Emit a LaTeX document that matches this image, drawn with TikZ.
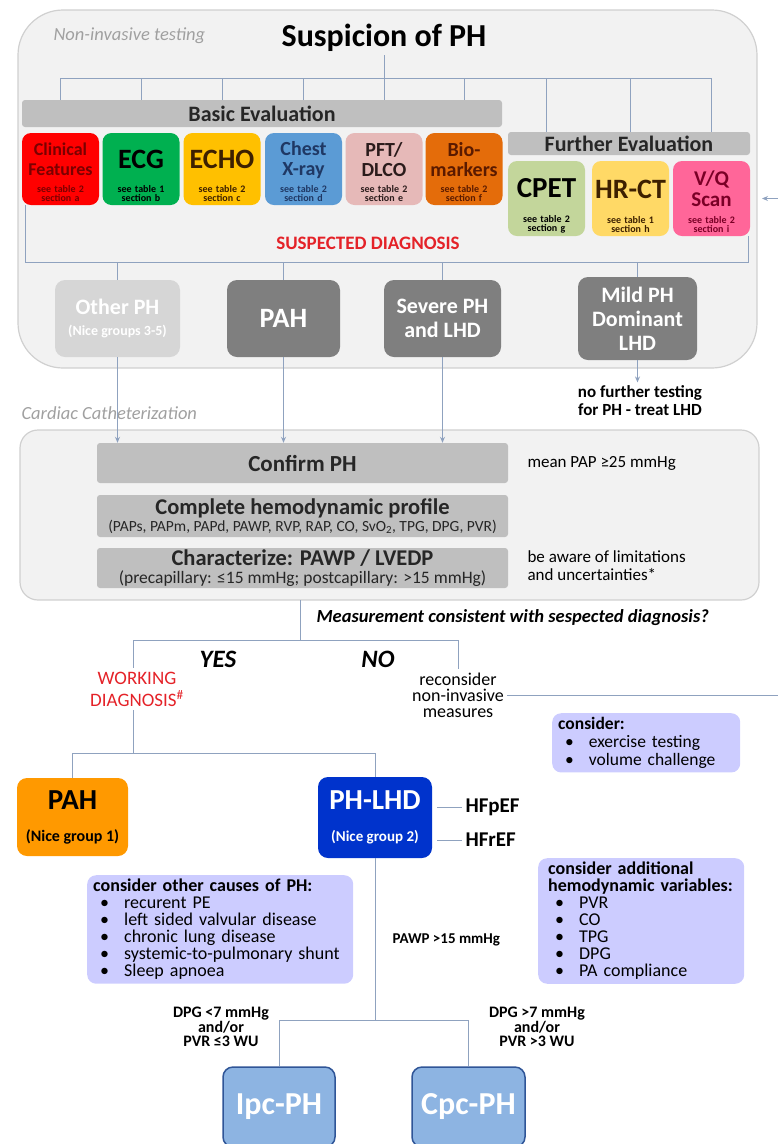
\documentclass[tikz,border=0pt]{standalone}
\usepackage{fontspec}
\setmainfont{Carlito}
\usetikzlibrary{arrows.meta,positioning,calc}

\newcommand{\fsz}[2]{\fontsize{#1}{#2}\selectfont}
% test box: main text centred above, table reference at the bottom
\newcommand{\testtext}[5]{\vbox to #5{\vfill{\fsz{#1}{#2}#3\par}\vfill{\fsz{10}{9}#4\par}\vspace{1pt}}}
\newcommand{\bul}{\hspace*{7pt}\textbullet\hspace{15pt}}

\definecolor{panelfill}{HTML}{F2F2F2}
\definecolor{panelline}{HTML}{D0D0D0}
\definecolor{bargray}{HTML}{BFBFBF}
\definecolor{wirecol}{HTML}{8FA2BF}
\definecolor{softgray}{HTML}{A0A0A0}
\definecolor{dxgray}{HTML}{7F7F7F}
\definecolor{dxlight}{HTML}{D6D6D6}
\definecolor{lilac}{HTML}{CCCCFF}
\definecolor{alert}{HTML}{E42228}
\definecolor{clinred}{HTML}{FF0000}
\definecolor{clintext}{HTML}{7A0000}
\definecolor{ecggreen}{HTML}{00B050}
\definecolor{echoyel}{HTML}{FFC000}
\definecolor{echotext}{HTML}{3D2000}
\definecolor{cxrblue}{HTML}{5B9BD5}
\definecolor{cxrtext}{HTML}{1F3864}
\definecolor{pftpink}{HTML}{E6B9B8}
\definecolor{pfttext}{HTML}{2B1B1B}
\definecolor{bioorange}{HTML}{E46C0A}
\definecolor{biotext}{HTML}{5A1A00}
\definecolor{cpetgreen}{HTML}{C3D69B}
\definecolor{hrctyel}{HTML}{FFD966}
\definecolor{vqpink}{HTML}{FF6699}
\definecolor{vqtext}{HTML}{7A0026}
\definecolor{pahorange}{HTML}{FF9900}
\definecolor{lhdblue}{HTML}{0033CC}
\definecolor{pcblue}{HTML}{8DB4E2}
\definecolor{pcedge}{HTML}{2F5597}

\tikzset{
  panel/.style={draw=panelline, fill=panelfill, line width=1.2pt},
  wire/.style={draw=wirecol, line width=0.9pt},
  tip/.style={wire, -{Stealth[length=6pt,width=5pt]}},
  bar/.style={fill=bargray, rounded corners=3pt, inner sep=0pt, font=\bfseries, text=black!85},
  test/.style={rounded corners=9pt, inner xsep=1pt, inner ysep=2pt, text width=75pt, align=center, font=\bfseries},
  dx/.style={fill=dxgray, rounded corners=10pt, text=white, align=center, inner sep=1pt, font=\bfseries\fsz{22}{24}},
  group/.style={rounded corners=10pt, align=center, inner sep=1pt, font=\bfseries\fsz{29}{30}},
  note/.style={fill=lilac, rounded corners=9pt, anchor=north west, align=left, inner xsep=6pt, inner ysep=4pt, font=\fsz{18}{17}},
  pc/.style={fill=pcblue, draw=pcedge, line width=1.5pt, rounded corners=10pt, text=white, font=\bfseries\fsz{32}{34}, minimum height=80pt},
  tag/.style={font=\bfseries\fsz{16}{14.5}, align=center},
}

\begin{document}
\begin{tikzpicture}[x=1pt,y=-1pt]
  \useasboundingbox (0,0) rectangle (778,1144);

  % --- non-invasive testing ---
  \draw[panel, rounded corners=45pt] (18,10) rectangle (757,368);
  \node[anchor=west, font=\itshape\fsz{18.5}{20}, text=softgray] (nit) at (50,36) {Non-invasive testing};
  \node[font=\bfseries\fsz{32}{34}] (susp) at (384,38) {Suspicion of PH};

  \node[bar, minimum width=480pt, minimum height=27pt, font=\bfseries\fsz{22}{24}] (basic) at (262,113.5) {Basic Evaluation};
  \node[bar, minimum width=242pt, minimum height=23pt, font=\bfseries\fsz{22}{24}] (further) at (629,143.5) {Further Evaluation};

  \node[test, fill=clinred, text=clintext] (clin) at (60.5,169) {\testtext{18}{20}{Clinical\\Features}{see table 2\\section a}{68pt}};
  \node[test, fill=ecggreen, text=black] (ecg) at (141,169) {\testtext{28}{28}{ECG}{see table 1\\section b}{68pt}};
  \node[test, fill=echoyel, text=echotext] (echo) at (222,169) {\testtext{28}{28}{ECHO}{see table 2\\section c}{68pt}};
  \node[test, fill=cxrblue, text=cxrtext] (cxr) at (303.5,169) {\testtext{20}{20}{Chest\\X-ray}{see table 2\\section d}{68pt}};
  \node[test, fill=pftpink, text=pfttext] (pft) at (384,169) {\testtext{20}{20}{PFT/\\DLCO}{see table 2\\section e}{68pt}};
  \node[test, fill=bioorange, text=biotext] (bio) at (464,169) {\testtext{20}{20}{Bio-\\markers}{see table 2\\section f}{68pt}};

  \node[test, fill=cpetgreen, text=black] (cpet) at (546.5,198.5) {\testtext{29}{29}{CPET}{see table 2\\section g}{71pt}};
  \node[test, fill=hrctyel, text=echotext] (hrct) at (630.5,198.5) {\testtext{28}{28}{HR-CT}{see table 1\\section h}{71pt}};
  \node[test, fill=vqpink, text=vqtext] (vq) at (711.5,198.5) {\testtext{21}{21}{V/Q\\Scan}{see table 2\\section i}{71pt}};

  % tree from the suspicion down to every test
  \coordinate (tree) at (0,78);
  \draw[wire] (clin |- tree) -- (vq |- tree);
  \draw[wire] (susp.south -| pft) -- (pft |- basic.north);
  \foreach \n in {clin,ecg,echo,cxr,bio}
    \draw[wire] (\n |- tree) -- (\n |- basic.north);
  \foreach \n in {cpet,hrct,vq}
    \draw[wire] (\n |- tree) -- (\n |- further.north);

  % suspected diagnosis
  \coordinate (sdl) at (25,262);
  \coordinate (sdr) at (748,262);
  \draw[wire] (clin.south -| sdl) -- (sdl) -- (sdr) -- (vq.south -| sdr);
  \node[font=\bfseries\fsz{19}{21}, text=alert] (sdx) at (368,243) {SUSPECTED DIAGNOSIS};

  \node[dx, fill=dxlight, minimum width=125pt, minimum height=77pt] (oth) at (117.5,318.5) {Other PH\\[-3pt]{\fsz{14}{15}(Nice groups 3-5)}};
  \node[dx, minimum width=113pt, minimum height=77pt, font=\bfseries\fsz{28}{30}] (pah) at (283.5,318.5) {PAH};
  \node[dx, minimum width=117pt, minimum height=77pt] (sev) at (442.5,318.5) {Severe PH\\and LHD};
  \node[dx, minimum width=119pt, minimum height=83pt] (mild) at (637.5,318.5) {Mild PH\\Dominant\\LHD};
  \foreach \n in {oth,pah,sev,mild}
    \draw[wire] (\n |- sdl) -- (\n.north);

  \node[font=\bfseries\fsz{17}{18}, align=center] (nft) at (640,401) {no further testing\\for PH - treat LHD};
  \draw[tip] (mild.south) -- (mild.south |- nft.north);

  % --- cardiac catheterization ---
  \node[anchor=west, font=\itshape\fsz{18.5}{20}, text=softgray] (cath) at (18,413) {Cardiac Catheterization};
  \draw[panel, rounded corners=18pt] (20,430) rectangle (759,600);

  \node[bar, minimum width=411pt, minimum height=40pt, font=\bfseries\fsz{23}{25}] (confirm) at (302.5,463) {Confirm PH};
  \node[bar, minimum width=411pt, minimum height=42pt, align=center, font=\bfseries\fsz{22.5}{17}] (profile) at (302.5,516)
    {Complete hemodynamic profile\\{\mdseries\fsz{15.5}{16}(PAPs, PAPm, PAPd, PAWP, RVP, RAP, CO, SvO\textsubscript{2}, TPG, DPG, PVR)}};
  \node[bar, minimum width=411pt, minimum height=40pt, align=center, font=\bfseries\fsz{22.5}{18}] (charz) at (302.5,568)
    {Characterize: PAWP / LVEDP\\{\mdseries\fsz{17.5}{18}(precapillary: ≤15 mmHg; postcapillary: >15 mmHg)}};
  \foreach \n in {oth,pah,sev}
    \draw[tip] (\n.south) -- (\n.south |- confirm.north);

  \node[anchor=west, font=\fsz{17}{18}] (mpap) at (524,463) {mean PAP ≥25 mmHg};
  \node[anchor=west, align=left, font=\fsz{17}{18}] (aware) at (524,566) {be aware of limitations\\and uncertainties*};

  % --- yes / no ---
  \coordinate (catbot) at (300,600);
  \coordinate (fork) at (300,640);
  \coordinate (yesend) at (133,640);
  \draw[wire] (catbot) -- (fork);
  \node[anchor=west, font=\bfseries\itshape\fsz{18.5}{19}] (meas) at (313,618) {Measurement consistent with sespected diagnosis?};
  \node[font=\bfseries\itshape\fsz{25}{26}] (yes) at (218,659) {YES};
  \node[font=\bfseries\itshape\fsz{25}{26}] (no) at (378,659) {NO};

  \node[align=center, text=alert, font=\fsz{19}{22}] (wd) at (137,689) {WORKING\\DIAGNOSIS\textsuperscript{\#}};
  \node[align=center, font=\fsz{18}{16}] (rc) at (458,695) {reconsider\\non-invasive\\measures};
  \draw[wire] (yesend) -- (rc.north |- fork);
  \draw[wire] (yesend) -- (yesend |- wd.north);
  \draw[wire] (rc.north |- fork) -- (rc.north);

  % back to the non-invasive panel
  \coordinate (edge) at (780,198.5);
  \coordinate (back) at (762,198.5);
  \draw[tip] (rc.east) -| (edge) -- (back);

  \node[note, text width=176pt, font=\fsz{17.5}{18}] (cons) at (552,713)
    {\textbf{consider:}\\\bul exercise testing\\\bul volume challenge};

  % --- working diagnosis groups ---
  \node[group, fill=pahorange, text=black, minimum width=111pt, minimum height=78pt] (pahg) at (72.5,817) {PAH\\[2pt]{\fsz{16}{16}(Nice group 1)}};
  \node[group, fill=lhdblue, text=white, minimum width=114pt, minimum height=81pt] (lhd) at (375,817.5) {PH-LHD\\[2pt]{\fsz{15}{16}(Nice group 2)}};
  \coordinate (grp) at (0,753);
  \draw[wire] (yesend |- wd.south) -- (yesend |- grp);
  \draw[wire] (pahg.north |- grp) -- (lhd.north |- grp);
  \draw[wire] (pahg.north |- grp) -- (pahg.north);
  \draw[wire] (lhd.north |- grp) -- (lhd.north);

  \node[anchor=west, font=\bfseries\fsz{21}{22}] (hfp) at (462,807) {HFpEF};
  \node[anchor=west, font=\bfseries\fsz{21}{22}] (hfr) at (462,840) {HFrEF};
  \draw[wire] ($(lhd.east |- hfp)+(5,0)$) -- (hfp.west);
  \draw[wire] ($(lhd.east |- hfr)+(5,0)$) -- (hfr.west);

  \node[note, text width=254pt] (causes) at (87,875)
    {\textbf{consider other causes of PH:}\\\bul recurent PE\\\bul left sided valvular disease\\\bul chronic lung disease\\\bul systemic-to-pulmonary shunt\\\bul Sleep apnoea};
  \node[note, inner xsep=10pt, text width=186pt] (addvar) at (538,858)
    {\textbf{consider additional}\\\textbf{hemodynamic variables:}\\\bul PVR\\\bul CO\\\bul TPG\\\bul DPG\\\bul PA compliance};

  % --- pre- / combined post-capillary ---
  \coordinate (pcf) at (0,1020);
  \draw[wire] (lhd.south) -- (lhd.south |- pcf);
  \node[anchor=west, tag, font=\bfseries\fsz{15}{16}] (pawp) at (389,940) {PAWP >15 mmHg};

  \node[pc, minimum width=112pt] (ipc) at (279,1107) {Ipc-PH};
  \node[pc, minimum width=113pt] (cpc) at (468.5,1107) {Cpc-PH};
  \draw[wire] (ipc.north |- pcf) -- (cpc.north |- pcf);
  \draw[wire] (ipc.north |- pcf) -- (ipc.north);
  \draw[wire] (cpc.north |- pcf) -- (cpc.north);

  \node[tag] (lo) at (221,1027) {DPG <7 mmHg\\and/or\\PVR ≤3 WU};
  \node[tag] (hi) at (537,1027) {DPG >7 mmHg\\and/or\\PVR >3 WU};
\end{tikzpicture}
\end{document}
